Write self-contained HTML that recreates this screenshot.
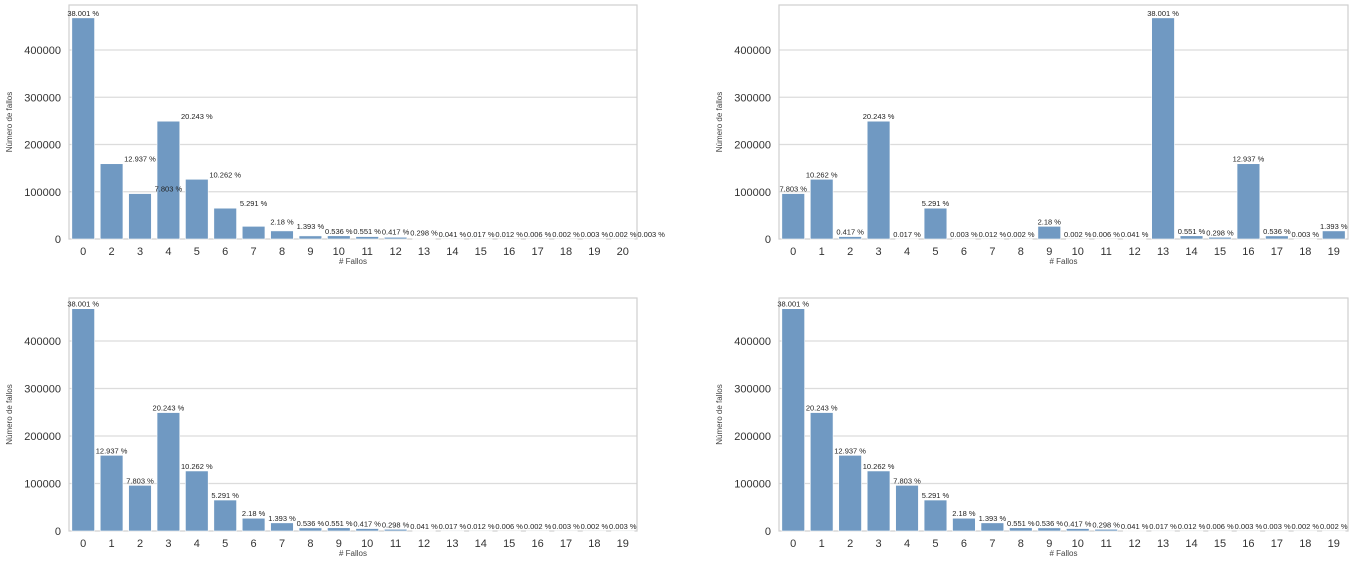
<!DOCTYPE html>
<html><head><meta charset="utf-8">
<style>
html,body{margin:0;padding:0;background:#fff;}
svg{display:block;font-family:"Liberation Sans","DejaVu Sans",sans-serif;}
</style></head>
<body>
<svg id="chart" width="1355" height="563" viewBox="0 0 1355 563"></svg>
<script>
// Panel data
const cats1 = ["0","2","3","4","5","6","7","8","9","10","11","12","13","14","15","16","17","18","19","20"];
const labelPos1 = [0,2,3,4,5,6,7,8,9,10,11,12,13,14,15,16,17,18,19,20];
const pcts1 = [38.001,12.937,7.803,20.243,10.262,5.291,2.18,1.393,0.536,0.551,0.417,0.298,0.041,0.017,0.012,0.006,0.002,0.003,0.002,0.003];
const counts1 = [468000,159300,96100,249300,126400,65200,26850,17150,6600,6790,5135,3670,505,209,148,74,25,37,25,37];

const cats2 = ["0","1","2","3","4","5","6","7","8","9","10","11","12","13","14","15","16","17","18","19"];
const pcts2 = [7.803,10.262,0.417,20.243,0.017,5.291,0.003,0.012,0.002,2.18,0.002,0.006,0.041,38.001,0.551,0.298,12.937,0.536,0.003,1.393];
const counts2 = [96100,126400,5135,249300,209,65200,37,148,25,26850,25,74,505,468000,6790,3670,159300,6600,37,17150];

const cats3 = ["0","1","2","3","4","5","6","7","8","9","10","11","12","13","14","15","16","17","18","19"];
const pcts3 = [38.001,12.937,7.803,20.243,10.262,5.291,2.18,1.393,0.536,0.551,0.417,0.298,0.041,0.017,0.012,0.006,0.002,0.003,0.002,0.003];
const counts3 = [468000,159300,96100,249300,126400,65200,26850,17150,6600,6790,5135,3670,505,209,148,74,25,37,25,37];

const cats4 = ["0","1","2","3","4","5","6","7","8","9","10","11","12","13","14","15","16","17","18","19"];
const pcts4 = [38.001,20.243,12.937,10.262,7.803,5.291,2.18,1.393,0.551,0.536,0.417,0.298,0.041,0.017,0.012,0.006,0.003,0.003,0.002,0.002];
const counts4 = [468000,249300,159300,126400,96100,65200,26850,17150,6790,6600,5135,3670,505,209,148,74,37,37,25,25];

const yTicks = [0,100000,200000,300000,400000];

const NS = "http://www.w3.org/2000/svg";
const svg = document.getElementById("chart");
function mk(tag, attrs, parent, text){
  const e = document.createElementNS(NS, tag);
  for (const k in attrs) e.setAttribute(k, attrs[k]);
  if (text !== undefined) e.textContent = text;
  parent.appendChild(e);
  return e;
}

function panel(id, L, R, top, base, y400, cats, counts, pcts, labelPos, ylabX){
  const g = mk("g", {}, svg);
  
  
  const n = cats.length;
  const band = (R - L) / n;
  const yScale = v => base - (v / 400000) * (base - y400);
  const xCenter = i => L + band * (i + 0.5);
  yTicks.forEach(t => {
    const y = yScale(t);
    if (t > 0) {
      const gl = mk("line", {x1:L, x2:R, y1:y, y2:y, stroke:"#dcdcdc", "stroke-width":1.3}, g);
      
      
    }
    const tl = mk("text", {x:L-8, y:y+4, "text-anchor":"end", "font-size":11, fill:"#333"}, g, String(t));
    
    
  });
  const fr = mk("rect", {x:L, y:top, width:R-L, height:base-top, fill:"none", stroke:"#cfcfcf", "stroke-width":1.2}, g);
  
  
  counts.forEach((c, i) => {
    const w = band * 0.8;
    const y = yScale(c);
    const b = mk("rect", {x:xCenter(i) - w/2, y:y, width:w, height:Math.max(base - y, 0.5), fill:"#7099c2", stroke:"#ffffff", "stroke-width":0.6}, g);
    
    
    const xt = mk("text", {x:xCenter(i), y:base + 16, "text-anchor":"middle", "font-size":11, fill:"#333"}, g, cats[i]);
    
    
  });
  counts.forEach((c, i) => {
    const y = yScale(c);
    const lx = labelPos ? xCenter(labelPos[i]) : xCenter(i);
    const lab = mk("text", {x:lx, y:y - 2, "text-anchor":"middle", "font-size":7.5, fill:"#222"}, g, pcts[i] + " %");
    
    
  });
  const xl = mk("text", {x:(L+R)/2, y:base + 25, "text-anchor":"middle", "font-size":8, fill:"#444"}, g, "# Fallos");
  
  
  const cy = (top + base) / 2;
  const yl = mk("text", {x:ylabX, y:cy, "text-anchor":"middle", "font-size":8, fill:"#444", transform:"rotate(-90 " + ylabX + " " + cy + ")"}, g, "Número de fallos");
  
  
}

panel("top-left", 69, 637, 5, 239, 50, cats1, counts1, pcts1, labelPos1, 12);
panel("top-right", 779, 1348, 5, 239, 50, cats2, counts2, pcts2, null, 722);
panel("bottom-left", 69, 637, 298, 531, 341, cats3, counts3, pcts3, null, 12);
panel("bottom-right", 779, 1348, 298, 531, 341, cats4, counts4, pcts4, null, 722);
</script>
</body></html>
